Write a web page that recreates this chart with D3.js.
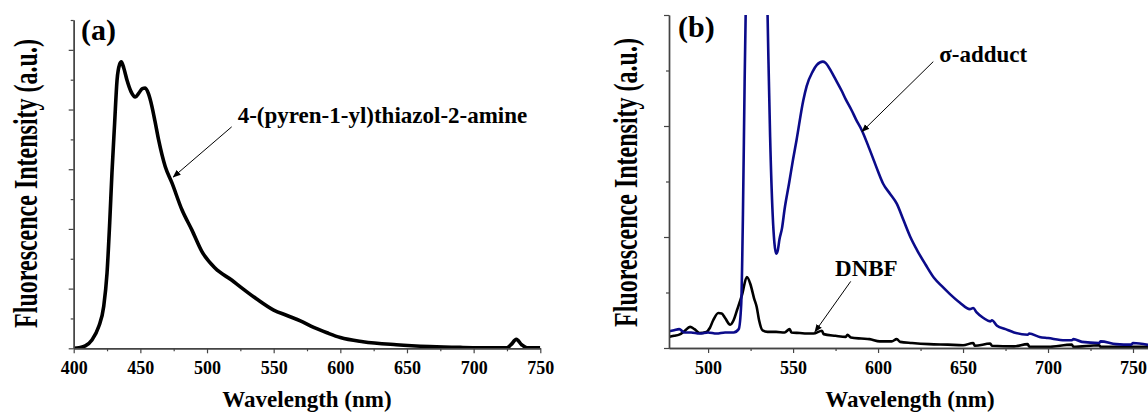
<!DOCTYPE html>
<html>
<head>
<meta charset="utf-8">
<script src="https://cdn.jsdelivr.net/npm/d3@7"></script>
</head>
<body style="margin:0;background:#fff">
<svg id="chart" width="1148" height="412"></svg>
<script>
// panel (a): 4-(pyren-1-yl)thiazol-2-amine emission, [wavelength nm, intensity a.u.]
var pyrene = [[400,0],[404,0.01],[408.7,0.04],[413.7,0.14],[418.7,0.36],[422.5,0.7],[425,1.26],[427,2.1],
    [428.7,2.94],[430.7,3.77],[432.5,4.49],[434.5,4.76],[435.7,4.8],[437.5,4.7],[440,4.49],[443,4.3],[446.2,4.21],
    [449,4.28],[451.5,4.35],[453.7,4.36],[456,4.27],[458.7,4.05],[461,3.8],[463.7,3.49],[468.7,3.04],[473.7,2.77],
    [481.2,2.32],[488.7,1.98],[496.2,1.62],[506.2,1.34],[518.7,1.14],[525,1.03],[537,0.83],[550,0.64],[560,0.55],
    [570,0.46],[580,0.35],[590,0.26],[600,0.18],[617,0.11],[642,0.06],[667,0.03],[690,0.015],[705,0.01],[725,0.01],
    [728,0.06],[732,0.15],[736,0.06],[740,0.01],[750,0.01]];

// panel (b): sigma-adduct and DNBF
var adduct = [[477,0.15],[480,0.16],[483,0.17],[486,0.14],[490,0.14],[495,0.13],[500,0.14],[505,0.13],[510,0.14],
    [515,0.14],[518,0.17],[519.5,0.4],[520.5,1.2],[521.5,2.4],[522.5,3.4],[524,4.5],[528,5.0],[533,4.5],[534.5,3.4],
    [535.5,2.6],[536.5,1.9],[538,1.2],[539,0.95],[540,0.85],[541,0.88],[542,0.98],[543.5,1.08],[545,1.25],[547.6,1.48],
    [550,1.7],[552,1.87],[556,2.23],[558,2.36],[561.5,2.49],[564,2.55],[567.5,2.58],[569,2.57],[572.5,2.49],[575,2.42],
    [578.5,2.32],[581,2.24],[584.5,2.14],[587,2.06],[590.5,1.96],[594,1.83],[597.5,1.69],[600,1.59],[603,1.48],
    [607,1.39],[611,1.3],[615,1.15],[619,1.0],[623,0.88],[628,0.75],[633,0.63],[638,0.55],[642,0.49],[648,0.41],
    [654,0.35],[656,0.36],[658,0.32],[662,0.27],[666,0.24],[667,0.25],[670,0.2],[675,0.17],[680,0.14],[688,0.12],
    [689,0.13],[695,0.1],[700,0.09],[710,0.07],[714,0.07],[715,0.08],[720,0.055],[730,0.045],[731,0.06],[740,0.035],
    [749,0.03],[750,0.045],[760,0.025]];

var dnbf = [[477,0.10],[480,0.11],[483,0.12],[486,0.15],[489.4,0.19],[492,0.17],[495,0.135],[499,0.145],[501,0.18],
    [503,0.25],[506,0.315],[508,0.31],[510,0.27],[513,0.21],[515,0.25],[517,0.34],[520,0.48],[522.8,0.64],[525,0.57],
    [527,0.45],[528.6,0.37],[530,0.25],[532,0.16],[535,0.145],[540,0.145],[545,0.14],[548,0.17],[549,0.14],[554,0.135],
    [558,0.13],[562,0.13],[567,0.155],[568,0.125],[575,0.11],[581,0.1],[582,0.12],[584,0.095],[590,0.085],[595,0.08],
    [601,0.06],[608,0.06],[611,0.08],[613,0.055],[620,0.045],[630,0.035],[641,0.03],[650,0.025],[656,0.045],[657,0.02],
    [666,0.04],[667,0.02],[680,0.015],[688,0.035],[689,0.012],[700,0.01],[714,0.03],[715,0.01],[730,0.025],[731,0.01],
    [760,0.01]];

var xTicksA = [400, 450, 500, 550, 600, 650, 700, 750],
    xMinorA = [425, 475, 525, 575, 625, 675, 725],
    yTicksA = [0, 1, 2, 3, 4, 5],
    yMinorA = [0.5, 1.5, 2.5, 3.5, 4.5, 5.5];
var xTicksB = [500, 550, 600, 650, 700, 750],
    xMinorB = [525, 575, 625, 675, 725],
    yTicksB = [0, 1, 2, 3],
    yMinorB = [0.5, 1.5, 2.5];

// annotations in data coords: label anchor, arrow tail, arrow tip
var notesA = [{text: "4-(pyren-1-yl)thiazol-2-amine", at: [523, 3.77], from: [518.5, 3.71], to: [474.7, 2.87]}];
var notesB = [{text: "σ-adduct", at: [636, 2.58], from: [632.5, 2.58], to: [590.6, 1.95]},
              {text: "DNBF", at: [574.7, 0.65], from: [583.9, 0.6], to: [562.9, 0.147]}];

var FONT = "Liberation Serif";
var svg = d3.select("#chart");

svg.append("defs").append("marker")
    .attr("id", "arr").attr("viewBox", "0 0 10 10").attr("refX", 9).attr("refY", 5)
    .attr("markerWidth", 8).attr("markerHeight", 8).attr("orient", "auto-start-reverse")
    .attr("markerUnits", "userSpaceOnUse")
    .append("path").attr("d", "M0,1 L10,5 L0,9 Z").attr("fill", "#000");

function label(g, size) {
    return g.append("text").style("font-family", FONT).style("font-weight", "bold")
        .style("font-size", size + "px").attr("fill", "#000");
}

function panel(cfg) {
    var x = d3.scaleLinear().domain(cfg.xdom).range(cfg.xr),
        y = d3.scaleLinear().domain(cfg.ydom).range(cfg.yr);
    var g = svg.append("g");

    g.append("clipPath").attr("id", cfg.id + "-clip")
        .append("rect").attr("x", cfg.xr[0]).attr("y", cfg.yr[1])
        .attr("width", cfg.xr[1] - cfg.xr[0]).attr("height", cfg.yr[0] - cfg.yr[1]);

    var line = d3.line().x(d => x(d[0])).y(d => y(d[1])).curve(d3.curveMonotoneX);
    cfg.series.forEach(s => {
        g.append("path").datum(s.data)
            .attr("clip-path", "url(#" + cfg.id + "-clip)")
            .attr("fill", "none").attr("stroke", s.color).attr("stroke-width", s.width)
            .attr("stroke-linejoin", "round").attr("d", line);
    });

    // axes, ticks outwards
    var xa = g.append("g").attr("transform", "translate(0," + cfg.yr[0] + ")");
    xa.append("g").call(d3.axisBottom(x).tickValues(cfg.xminor).tickSize(3).tickFormat("").tickSizeOuter(0));
    xa.append("g").call(d3.axisBottom(x).tickValues(cfg.xticks).tickSize(5).tickPadding(8).tickSizeOuter(0));
    var ya = g.append("g").attr("transform", "translate(" + cfg.xr[0] + ",0)");
    ya.append("g").call(d3.axisLeft(y).tickValues(cfg.yminor).tickSize(3).tickFormat("").tickSizeOuter(0));
    ya.append("g").call(d3.axisLeft(y).tickValues(cfg.yticks).tickSize(5).tickFormat("").tickSizeOuter(0));
    g.selectAll(".domain").attr("stroke", "#444").attr("stroke-width", 1.4);
    g.selectAll(".tick line").attr("stroke", "#444").attr("stroke-width", 1.2);
    g.selectAll(".tick text").style("font-size", "18px").style("font-family", FONT)
        .style("font-weight", "bold").attr("fill", "#000");

    label(g, 30).attr("x", cfg.tag[0]).attr("y", cfg.tag[1]).text(cfg.tagText);

    label(g, 23).attr("x", cfg.xlab[0]).attr("y", cfg.xlab[1]).attr("text-anchor", "middle")
        .text("Wavelength (nm)");

    label(g, 24).attr("text-anchor", "middle")
        .attr("transform", "translate(" + cfg.ylab + ") rotate(-90) scale(1,1.42)")
        .text("Fluorescence Intensity (a.u.)");

    cfg.notes.forEach(n => {
        g.append("line").attr("x1", x(n.from[0])).attr("y1", y(n.from[1]))
            .attr("x2", x(n.to[0])).attr("y2", y(n.to[1]))
            .attr("stroke", "#000").attr("stroke-width", 1).attr("marker-end", "url(#arr)");
        label(g, 23).attr("x", x(n.at[0])).attr("y", y(n.at[1])).text(n.text);
    });
}

panel({
    id: "a", xdom: [400, 750], xr: [73.7, 540.3], ydom: [0, 5.5], yr: [348.3, 20],
    xticks: xTicksA, xminor: xMinorA, yticks: yTicksA, yminor: yMinorA,
    series: [{data: pyrene, color: "#000", width: 3.6}],
    tag: [81, 40], tagText: "(a)", xlab: [307, 406.7], ylab: [36.7, 183.5], notes: notesA
});

panel({
    id: "b", xdom: [477, 760], xr: [669, 1150], ydom: [0, 3], yr: [348, 15],
    xticks: xTicksB, xminor: xMinorB, yticks: yTicksB, yminor: yMinorB,
    series: [{data: dnbf, color: "#000", width: 2.6}, {data: adduct, color: "#0b0b8a", width: 2.6}],
    tag: [678, 37], tagText: "(b)", xlab: [910, 406.7], ylab: [637, 182.5], notes: notesB
});
</script>
</body>
</html>
